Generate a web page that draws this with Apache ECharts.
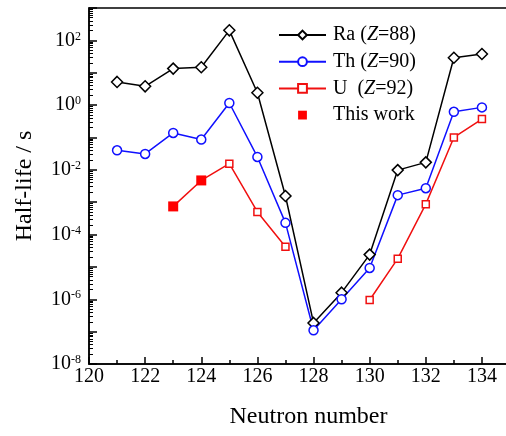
<!DOCTYPE html>
<html>
<head>
<meta charset="utf-8">
<script src="https://cdn.jsdelivr.net/npm/echarts@6/dist/echarts.min.js"></script>
<style>
  html, body { margin: 0; padding: 0; background: #fff; }
  #chart { width: 506px; height: 436px; }
</style>
</head>
<body>
<div id="chart"></div>
<script>
// neutron numbers and half-lives (s)
const neutrons = [121, 122, 123, 124, 125, 126, 127, 128, 129, 130, 131, 132, 133, 134];
const raHalf = [5.2, 3.8, 13.4, 14.7, 204, 2.4, 1.55e-3, 1.86e-7, 1.6e-6, 2.4e-5, 9.8e-3, 1.7e-2, 29, 38];
const thHalf = [0.04, 0.031, 0.138, 0.086, 1.16, 0.025, 2.3e-4, 1.1e-7, 1.0e-6, 9.3e-6, 1.65e-3, 2.7e-3, 0.62, 0.85];
const uHalf = [null, null, 7.4e-4, 4.7e-3, 0.0155, 5.0e-4, 4.2e-5, null, null, 9.5e-7, 1.8e-5, 8.7e-4, 0.1, 0.37];
const thisWorkN = [123, 124];
const thisWorkHalf = [7.4e-4, 4.7e-3];

const yTickExp = [-8, -7, -6, -5, -4, -3, -2, -1, 0, 1, 2, 3];

// log minor ticks 2..9 in every decade
let minorVals = [];
for (let e = -8; e < 3; e++) {
    for (let m = 2; m <= 9; m++) {
        minorVals.push(m * Math.pow(10, e));
    }
}

function pairs(xs, ys) {
    return xs.map(function (x, i) { return [x, ys[i]]; });
}

const font = 'Liberation Serif';

const legendNames = {
    'Ra': '{t|Ra (}{i|Z}{t|=88)}',
    'Th': '{t|Th (}{i|Z}{t|=90)}',
    'U': '{t|U  (}{i|Z}{t|=92)}',
    'This work': '{t|This work}'
};

let myChart = echarts.init(document.getElementById('chart'));
myChart.setOption({
    animation: false,
    backgroundColor: '#fff',
    grid: {
        left: 89,
        right: -4,
        top: 8,
        bottom: 72,
        outerBoundsMode: 'none',
        containLabel: false,
        show: true,
        borderColor: '#000',
        borderWidth: 1.5,
        backgroundColor: 'transparent'
    },
    legend: {
        orient: 'vertical',
        left: 278,
        top: 25,
        padding: 0,
        itemWidth: 47,
        itemHeight: 11,
        itemGap: 6.7,
        data: ['Ra', 'Th', 'U', 'This work'],
        formatter: function (name) { return legendNames[name]; },
        textStyle: {
            fontFamily: font,
            fontSize: 20,
            color: '#000',
            padding: [0, 0, 0, 2],
            rich: {
                t: { fontFamily: font, fontSize: 20, color: '#000', lineHeight: 22 },
                i: { fontFamily: font, fontSize: 20, color: '#000', fontStyle: 'italic', lineHeight: 22 }
            }
        }
    },
    xAxis: {
        type: 'value',
        min: 120,
        max: 135,
        interval: 2,
        name: 'Neutron number',
        nameLocation: 'middle',
        nameGap: 41,
        nameTextStyle: { fontFamily: font, fontSize: 24, color: '#000', padding: [0, 0, 0, 18] },
        axisLine: { lineStyle: { color: '#000', width: 1.5 } },
        axisTick: { inside: true, length: 7, lineStyle: { color: '#000', width: 1.5 } },
        minorTick: { show: true, splitNumber: 2, length: 4, lineStyle: { color: '#000', width: 1.5 } },
        axisLabel: {
            fontFamily: font, fontSize: 20, color: '#000', margin: 3,
            formatter: function (v) { return v <= 134 ? String(v) : ''; }
        },
        splitLine: { show: false },
        minorSplitLine: { show: false }
    },
    yAxis: [
        {
            type: 'log',
            logBase: 10,
            min: 1e-8,
            max: 1e3,
            name: 'Half-life / s',
            nameLocation: 'middle',
            nameGap: 52,
            nameTextStyle: { fontFamily: font, fontSize: 24, color: '#000' },
            axisLine: { show: true, lineStyle: { color: '#000', width: 1.5 } },
            axisTick: {
                inside: true, length: 8,
                customValues: yTickExp.map(function (e) { return Math.pow(10, e); }),
                lineStyle: { color: '#000', width: 1.5 }
            },
            axisLabel: {
                margin: 8,
                customValues: [1e-8, 1e-6, 1e-4, 1e-2, 1, 1e2],
                formatter: function (v) {
                    let e = Math.round(Math.log10(v));
                    return '{b|10}{s|' + e + '}';
                },
                rich: {
                    b: { fontFamily: font, fontSize: 20, color: '#000', lineHeight: 20 },
                    s: { fontFamily: font, fontSize: 12, color: '#000', verticalAlign: 'top', lineHeight: 12 }
                }
            },
            splitLine: { show: false }
        },
        {
            type: 'log',
            logBase: 10,
            min: 1e-8,
            max: 1e3,
            position: 'left',
            offset: 0,
            axisLine: { show: false },
            axisTick: {
                show: true, inside: true, length: 4,
                customValues: minorVals,
                lineStyle: { color: '#000', width: 1 }
            },
            axisLabel: { show: false },
            splitLine: { show: false }
        }
    ],
    series: [
        {
            name: 'Ra',
            type: 'line',
            data: pairs(neutrons, raHalf),
            symbol: 'diamond',
            symbolSize: 11,
            lineStyle: { color: '#000', width: 1.5 },
            itemStyle: { color: '#fff', borderColor: '#000', borderWidth: 1.5 },
            z: 3
        },
        {
            name: 'Th',
            type: 'line',
            data: pairs(neutrons, thHalf),
            symbol: 'circle',
            symbolSize: 9,
            lineStyle: { color: '#1010ff', width: 1.5 },
            itemStyle: { color: '#fff', borderColor: '#1010ff', borderWidth: 1.5 },
            z: 3
        },
        {
            name: 'U',
            type: 'line',
            data: pairs(neutrons, uHalf),
            connectNulls: false,
            symbol: 'rect',
            symbolSize: 7,
            lineStyle: { color: '#f01010', width: 1.5 },
            itemStyle: { color: '#fff', borderColor: '#f01010', borderWidth: 1.5 },
            z: 3
        },
        {
            name: 'This work',
            type: 'line',
            data: pairs(thisWorkN, thisWorkHalf),
            symbol: 'rect',
            symbolSize: 10,
            lineStyle: { opacity: 0, width: 0 },
            itemStyle: { color: '#ff0000', borderColor: '#ff0000', borderWidth: 0 },
            z: 4
        }
    ]
});
</script>
</body>
</html>
